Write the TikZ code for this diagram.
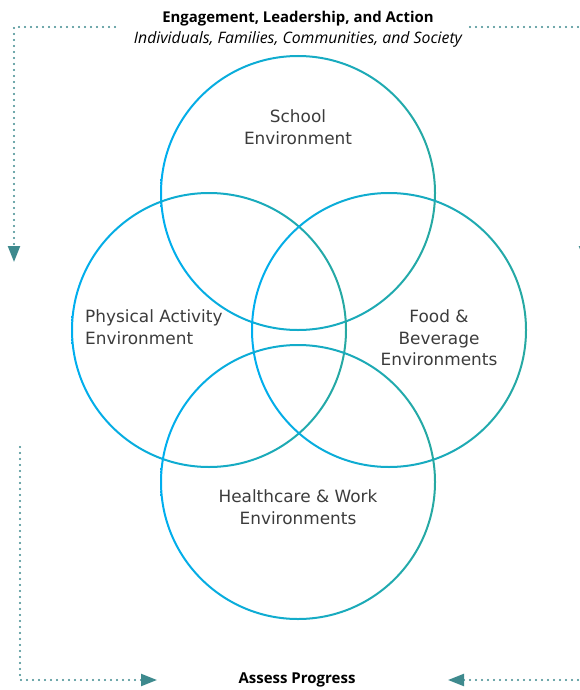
\documentclass[tikz,border=0pt]{standalone}
\usepackage{fontspec}
\setmainfont{Open Sans}
\newfontfamily\lblfont{DejaVu Sans}
\usetikzlibrary{arrows.meta}
\definecolor{cyanA}{HTML}{00AEEF}
\definecolor{tealA}{HTML}{27A9A2}
\definecolor{dotc}{HTML}{3E8A8E}
\definecolor{txt}{HTML}{3C3C3C}
\tikzset{
  ring/.style={left color=cyanA,right color=tealA,even odd rule},
  lbl/.style={font=\lblfont\fontsize{16.9}{21.5}\selectfont, text=txt, align=center, inner sep=0pt},
  head/.style={text=black, inner sep=0pt},
  flow/.style={draw=dotc, line width=2.2pt, dash pattern=on 0pt off 6pt, line cap=round,
    -{Triangle[length=16pt,width=12pt,fill=dotc]}},
}
\begin{document}
\begin{tikzpicture}[x=1pt,y=-1pt]
\useasboundingbox (0,0) rectangle (580,690);
\clip (0,0) rectangle (580,690);
% circles
\shade[ring] (298,193) circle (138pt) (298,193) circle (136pt);
\shade[ring] (209,330) circle (138pt) (209,330) circle (136pt);
\shade[ring] (389,330) circle (138pt) (389,330) circle (136pt);
\shade[ring] (298,482) circle (138pt) (298,482) circle (136pt);
% labels
\node[lbl] (school) at (298,127) {School\\Environment};
\node[lbl, align=left, anchor=west] (phys) at (85,327) {Physical Activity\\Environment};
\node[lbl] (food) at (439,338) {Food \&\\Beverage\\Environments};
\node[lbl] (health) at (298,507) {Healthcare \& Work\\Environments};
% header / footer
\node[head, font=\fontsize{14.9}{17}\selectfont\bfseries] (t1) at (298,18.5) {Engagement, Leadership, and Action};
\node[head, font=\fontsize{15.8}{18}\selectfont\itshape] (t2) at (298,39) {Individuals, Families, Communities, and Society};
\node[head, font=\fontsize{15}{17}\selectfont\bfseries] (t3) at (297,680) {Assess Progress};
% flow coordinates
\coordinate (tlS) at (115,27);
\coordinate (tlC) at (14,27);
\coordinate (tlE) at (14,262);
\coordinate (trS) at (470,27);
\coordinate (trC) at (585,27);
\coordinate (trE) at (585,262);
\coordinate (blS) at (20,447);
\coordinate (blC) at (20,680);
\coordinate (blE) at (157,680);
\coordinate (brS) at (585,447);
\coordinate (brC) at (585,680);
\coordinate (brE) at (448,680);
\draw[flow] (tlS) -- (tlC) -- (tlE);
\draw[flow] (trS) -- (trC) -- (trE);
\draw[flow] (blS) -- (blC) -- (blE);
\draw[flow] (brS) -- (brC) -- (brE);
\end{tikzpicture}
\end{document}
